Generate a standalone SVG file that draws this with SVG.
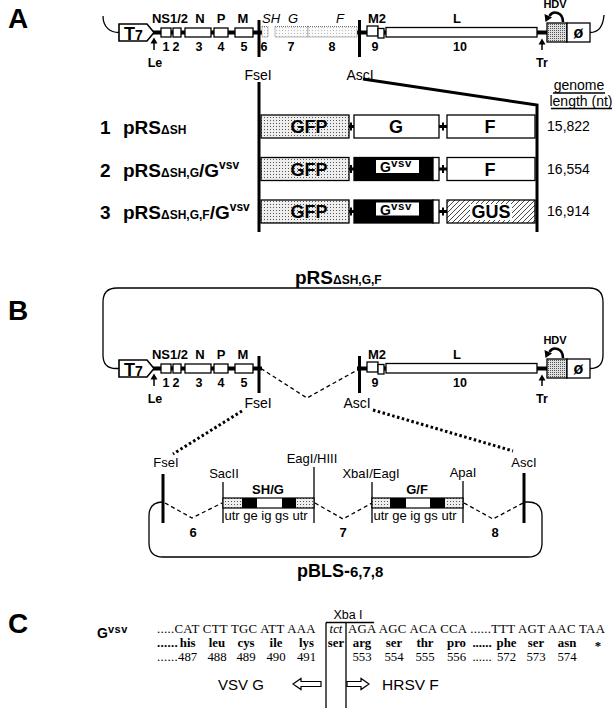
<svg xmlns="http://www.w3.org/2000/svg" width="614" height="712" viewBox="0 0 614 712">
<defs>
<style>
text{font-family:"Liberation Sans",Arial,sans-serif;fill:#000}
.b{font-weight:bold}
.l13{font-size:13px;font-weight:bold;text-anchor:middle}
.n12{font-size:12.5px;font-weight:bold;text-anchor:middle}
.it{font-size:13px;font-style:italic;text-anchor:middle}
.site{font-size:13px;text-anchor:middle}
.site14{font-size:14px;text-anchor:middle}
.box{fill:#fff;stroke:#000;stroke-width:1.3}
.sbox{fill:url(#stip);stroke:#000;stroke-width:1.3}
.pnl{font-size:28px;font-weight:bold}
.big{font-size:19px;font-weight:bold}
.ins{font-size:18px;font-weight:bold;text-anchor:middle}
.len{font-size:14px;text-anchor:middle}
.seq{font-family:"Liberation Serif","Times New Roman",serif;font-size:12.8px;letter-spacing:0.3px}
.sq{font-family:"Liberation Serif","Times New Roman",serif;font-size:12.8px;text-anchor:middle}
.sqb{font-family:"Liberation Serif","Times New Roman",serif;font-size:12.8px;font-weight:bold;text-anchor:middle}
.dash{fill:none;stroke:#000;stroke-width:1.3;stroke-dasharray:4 3}
.dot{fill:none;stroke:#000;stroke-width:3;stroke-dasharray:2.5 2.5}
.ln{stroke:#000;stroke-width:1.3}
.thick{stroke:#000;stroke-width:3}
</style>
<pattern id="stip" width="3" height="3" patternUnits="userSpaceOnUse"><rect width="3" height="3" fill="#eeeeee"/><rect width="1" height="1" fill="#555"/></pattern>
<pattern id="stipD" width="2" height="2" patternUnits="userSpaceOnUse"><rect width="2" height="2" fill="#e0e0e0"/><rect width="1" height="1" fill="#555"/></pattern>
<pattern id="stipL" width="3" height="3" patternUnits="userSpaceOnUse"><rect width="3" height="3" fill="#fafafa"/><rect width="1" height="1" fill="#bbb"/></pattern>
<pattern id="hatch" width="5" height="5" patternUnits="userSpaceOnUse"><rect width="5" height="5" fill="#fff"/><path d="M-1,1 L1,-1 M0,5 L5,0 M4,6 L6,4" stroke="#333" stroke-width="0.9"/></pattern>
<g id="mapL">
<line x1="153" y1="32.5" x2="262" y2="32.5" stroke="#000" stroke-width="4"/>
<polygon points="119,24 147,24 154,32.5 147,41 119,41" fill="#fff" stroke="#000" stroke-width="1.6"/>
<text x="124" y="40" class="b" font-size="18">T<tspan font-size="14">7</tspan></text>
<rect class="box" x="161" y="28" width="10" height="9"/>
<rect class="box" x="173" y="28" width="8" height="9"/>
<rect class="box" x="185" y="28" width="26" height="9"/>
<rect class="box" x="214" y="28" width="14" height="9"/>
<rect class="box" x="235" y="28" width="18" height="9"/>
<text class="l13" x="170" y="22.5">NS1/2</text>
<text class="l13" x="200" y="22.5">N</text>
<text class="l13" x="221" y="22.5">P</text>
<text class="l13" x="243" y="22.5">M</text>
<text class="n12" x="166" y="51">1</text>
<text class="n12" x="176" y="51">2</text>
<text class="n12" x="199" y="51">3</text>
<text class="n12" x="221" y="51">4</text>
<text class="n12" x="244" y="51">5</text>
<line x1="154" y1="42" x2="154" y2="50" stroke="#000" stroke-width="1.5"/>
<polygon points="154,37.5 150.5,43.5 157.5,43.5"/>
<text class="n12" x="155" y="66.5">Le</text>
<rect x="257.5" y="20" width="3" height="37"/>
</g>
<g id="mapR">
<line x1="357" y1="32.5" x2="368" y2="32.5" stroke="#000" stroke-width="4"/>
<line x1="382" y1="32.5" x2="388" y2="32.5" stroke="#000" stroke-width="4"/>
<line x1="536" y1="32.5" x2="548" y2="32.5" stroke="#000" stroke-width="4"/>
<rect x="358" y="20" width="3" height="37"/>
<rect class="box" x="367" y="26" width="11" height="10"/>
<rect class="box" x="378" y="28.5" width="6" height="9.5"/>
<rect class="box" x="386" y="27.5" width="151" height="9.5"/>
<text class="l13" x="377" y="22.5">M2</text>
<text class="l13" x="457" y="22.5">L</text>
<text class="n12" x="375" y="51">9</text>
<text class="n12" x="460" y="51">10</text>
<line x1="542" y1="43" x2="542" y2="50" stroke="#000" stroke-width="1.5"/>
<polygon points="542,38.5 538.5,44.5 545.5,44.5"/>
<text class="n12" x="542" y="66.5">Tr</text>
<rect x="547" y="23" width="20" height="19" fill="url(#stipD)" stroke="#000" stroke-width="1.3"/>
<rect class="box" x="567" y="23" width="23" height="19"/>
<text x="578.5" y="38" class="b" font-size="16" text-anchor="middle">ø</text>
<path d="M563,22 C563,12 553,10 549.5,16" fill="none" stroke="#000" stroke-width="2.6"/>
<polygon points="545.5,22 544.5,14 552,17.5"/>
<text x="555" y="8" class="b" font-size="11" text-anchor="middle">HDV</text>
</g>
</defs>

<g id="panelA">
<text class="pnl" x="8" y="28">A</text>
<g id="genomeA">
<path d="M103,16 C103,27 110,32.5 119,32.5" fill="none" stroke="#000" stroke-width="1.3"/>
<path d="M590,32.5 C598,32.5 603,28 604,15" fill="none" stroke="#000" stroke-width="1.3"/>
<use href="#mapL"/>
<use href="#mapR"/>
<rect x="262" y="26.5" width="6" height="10.5" fill="url(#stipL)" stroke="#777" stroke-width="1" stroke-dasharray="1 1"/>
<rect x="275" y="26.5" width="33" height="10.5" fill="url(#stipL)" stroke="#777" stroke-width="1" stroke-dasharray="1 1"/>
<rect x="308" y="26.5" width="49" height="10.5" fill="url(#stipL)" stroke="#777" stroke-width="1" stroke-dasharray="1 1"/>
<text class="it" x="271" y="22.5">SH</text>
<text class="it" x="293" y="22.5">G</text>
<text class="it" x="340" y="22.5">F</text>
<text class="n12" x="264" y="51">6</text>
<text class="n12" x="291" y="51">7</text>
<text class="n12" x="332" y="51">8</text>
<text class="site14" x="258" y="80">FseI</text>
<text class="site14" x="360" y="80">AscI</text>
</g>
<g id="expansion">
<line x1="259" y1="82" x2="259" y2="232" class="thick"/>
<polyline points="363,79 537,105 537,232" fill="none" class="thick"/>
</g>
<g id="lenHeader">
<text class="len" x="579" y="89.5" font-size="13.5">genome</text>
<line x1="553" y1="93" x2="605" y2="93" class="ln" stroke-width="1"/>
<text class="len" x="581" y="105.5" font-size="13.5">length (nt)</text>
<line x1="551" y1="108.5" x2="612" y2="108.5" class="ln" stroke-width="1"/>
</g>
<g id="row1">
<text class="big" x="100" y="134">1</text>
<text class="big" x="123" y="134">pRS<tspan font-size="12">ΔSH</tspan></text>
<rect class="sbox" x="261" y="115" width="88" height="23"/>
<text class="ins" x="309" y="133">GFP</text>
<rect x="350" y="122.5" width="2" height="8"/><rect x="349" y="125" width="5" height="3"/>
<rect class="box" x="354" y="115" width="85" height="23"/>
<text class="ins" x="396" y="133">G</text>
<rect x="442" y="122.5" width="2" height="8"/><rect x="439" y="125" width="8" height="3"/>
<rect class="box" x="447" y="115" width="88" height="23"/>
<text class="ins" x="490" y="133">F</text>
<text class="len" x="568.5" y="131">15,822</text>
</g>
<g id="row2">
<text class="big" x="100" y="176.5">2</text>
<text class="big" x="123" y="176.5">pRS<tspan font-size="12">ΔSH,G</tspan>/G<tspan font-size="12" dy="-8">vsv</tspan></text>
<rect class="sbox" x="261" y="157.5" width="88" height="23"/>
<text class="ins" x="309" y="175.5">GFP</text>
<rect x="350" y="165" width="2" height="8"/><rect x="349" y="167.5" width="5" height="3"/>
<rect x="354" y="157.5" width="79" height="23" fill="#000" stroke="#000" stroke-width="1.3"/>
<rect class="box" x="433" y="157.5" width="6" height="23"/>
<rect x="376" y="160" width="43" height="13" fill="#fff"/>
<text x="380" y="172" class="b" font-size="14">G<tspan font-size="11.5" dy="-5" letter-spacing="0.6">vsv</tspan></text>
<rect x="442" y="165" width="2" height="8"/><rect x="439" y="167.5" width="8" height="3"/>
<rect class="box" x="447" y="157.5" width="88" height="23"/>
<text class="ins" x="490" y="175.5">F</text>
<text class="len" x="568.5" y="173.5">16,554</text>
</g>
<g id="row3">
<text class="big" x="100" y="219">3</text>
<text class="big" x="123" y="219">pRS<tspan font-size="12">ΔSH,G,F</tspan>/G<tspan font-size="12" dy="-8">vsv</tspan></text>
<rect class="sbox" x="261" y="200" width="88" height="23"/>
<text class="ins" x="309" y="218">GFP</text>
<rect x="350" y="207.5" width="2" height="8"/><rect x="349" y="210" width="5" height="3"/>
<rect x="354" y="200" width="79" height="23" fill="#000" stroke="#000" stroke-width="1.3"/>
<rect class="box" x="433" y="200" width="6" height="23"/>
<rect x="376" y="202.5" width="43" height="13" fill="#fff"/>
<text x="380" y="214.5" class="b" font-size="14">G<tspan font-size="11.5" dy="-5" letter-spacing="0.6">vsv</tspan></text>
<rect x="442" y="207.5" width="2" height="8"/><rect x="439" y="210" width="8" height="3"/>
<rect x="447" y="200" width="88" height="23" fill="url(#hatch)" stroke="#000" stroke-width="1.3"/>
<rect x="470" y="204" width="42" height="16" fill="#fff"/>
<text class="ins" x="491" y="218">GUS</text>
<text class="len" x="568.5" y="216">16,914</text>
</g>
</g>

<g id="panelB">
<text class="pnl" x="8" y="320">B</text>
<g id="genomeB">
<text x="295" y="284" class="big">pRS<tspan font-size="12">ΔSH,G,F</tspan></text>
<path d="M119,368.5 L116,368.5 Q103,368.5 103,355 L103,302 Q103,288 117,288 L589,288 Q603,288 603,302 L603,355 Q603,368.5 590,368.5" fill="none" stroke="#000" stroke-width="1.3"/>
<use href="#mapL" transform="translate(0,336)"/>
<use href="#mapR" transform="translate(0,336)"/>
<text class="site14" x="258" y="408">FseI</text>
<text class="site14" x="357" y="408">AscI</text>
</g>
<g id="connectorsB">
<polyline class="dash" points="261,368.5 307,398 360,368.5"/>
<line class="dot" x1="242" y1="411" x2="173" y2="454"/>
<line class="dot" x1="373" y1="410" x2="513" y2="451"/>
<polyline class="dash" points="165,503 192,518 222,503"/>
<polyline class="dash" points="315,503 343,519 372,503"/>
<polyline class="dash" points="464,503 493,519 523,503"/>
<path d="M163,502 Q149,502 149,516 L149,543 Q149,557 163,557 L528,557 Q542,557 542,543 L542,516 Q542,502 528,502 L524,502" fill="none" stroke="#000" stroke-width="1.3"/>
</g>
<g id="pBLS">
<text class="site" x="166" y="467">FseI</text>
<line class="thick" x1="163" y1="474" x2="163" y2="523"/>
<text class="site" x="524" y="467">AscI</text>
<line class="thick" x1="524" y1="473" x2="524" y2="523"/>
<text class="site" x="224" y="478">SacII</text>
<line class="ln" x1="223" y1="482" x2="223" y2="523"/>
<text class="site" x="312" y="463">EagI/HIII</text>
<line class="ln" x1="314" y1="467" x2="314" y2="523"/>
<text class="site" x="371" y="478">XbaI/EagI</text>
<line class="ln" x1="372" y1="482" x2="372" y2="523"/>
<text class="site" x="463" y="477">ApaI</text>
<line class="ln" x1="463" y1="481" x2="463" y2="523"/>
</g>
<g id="cassetteSHG">
<text class="l13" x="268" y="494">SH/G</text>
<rect x="223" y="498" width="19" height="10" fill="url(#stip)"/>
<rect x="242" y="498" width="15" height="10" fill="#000"/>
<rect x="257" y="498" width="25" height="10" fill="#fff"/>
<rect x="282" y="498" width="14" height="10" fill="#000"/>
<rect x="296" y="498" width="18" height="10" fill="url(#stip)"/>
<rect x="223" y="498" width="91" height="10" fill="none" stroke="#000" stroke-width="1.2"/>
<text x="224.5" y="520" font-size="13">utr ge ig gs utr</text>
</g>
<g id="cassetteGF">
<text class="l13" x="417" y="494">G/F</text>
<rect x="372" y="498" width="18" height="10" fill="url(#stip)"/>
<rect x="390" y="498" width="16" height="10" fill="#000"/>
<rect x="406" y="498" width="24" height="10" fill="#fff"/>
<rect x="430" y="498" width="15" height="10" fill="#000"/>
<rect x="445" y="498" width="18" height="10" fill="url(#stip)"/>
<rect x="372" y="498" width="91" height="10" fill="none" stroke="#000" stroke-width="1.2"/>
<text x="373.5" y="520" font-size="13">utr ge ig gs utr</text>
</g>
<g id="labelsB">
<text class="l13" x="193" y="537">6</text>
<text class="l13" x="343" y="537">7</text>
<text class="l13" x="495" y="537">8</text>
<text x="297" y="577" class="b" font-size="18">pBLS-<tspan font-size="15">6,7,8</tspan></text>
</g>
</g>

<g id="panelC">
<text class="pnl" x="8" y="633">C</text>
<text x="97" y="638" class="b" font-size="14">G<tspan font-size="11" dy="-5" letter-spacing="0.5">vsv</tspan></text>
<g id="xba">
<text x="348" y="619" font-size="12.5" text-anchor="middle">Xba I</text>
<line class="ln" x1="326" y1="622.5" x2="374" y2="622.5"/>
<line class="ln" x1="326" y1="622.5" x2="326" y2="708"/>
<line class="ln" x1="346" y1="622.5" x2="346" y2="708"/>
</g>
<g id="seq1">
<text class="seq" x="157" y="633">.....CAT CTT TGC ATT AAA</text>
<text class="sq" x="336" y="633" font-style="italic">tct</text>
<text class="seq" x="348" y="633">AGA AGC ACA CCA ......TTT AGT AAC TAA</text>
</g>
<g id="seq2">
<text class="seq" x="157" y="647" font-weight="bold">......</text>
<text class="sqb" x="187.6" y="647">his</text>
<text class="sqb" x="217" y="647">leu</text>
<text class="sqb" x="246" y="647">cys</text>
<text class="sqb" x="276" y="647">ile</text>
<text class="sqb" x="306.5" y="647">lys</text>
<text class="sqb" x="336" y="647">ser</text>
<text class="sqb" x="362" y="647">arg</text>
<text class="sqb" x="394" y="647">ser</text>
<text class="sqb" x="425" y="647">thr</text>
<text class="sqb" x="456.5" y="647">pro</text>
<text class="sqb" x="482" y="647">......</text>
<text class="sqb" x="506.5" y="647">phe</text>
<text class="sqb" x="536" y="647">ser</text>
<text class="sqb" x="567" y="647">asn</text>
<text class="sqb" x="598" y="650">*</text>
</g>
<g id="seq3">
<text class="seq" x="157" y="661">......</text>
<text class="sq" x="187.6" y="661">487</text>
<text class="sq" x="217" y="661">488</text>
<text class="sq" x="246" y="661">489</text>
<text class="sq" x="276" y="661">490</text>
<text class="sq" x="306.5" y="661">491</text>
<text class="sq" x="362" y="661">553</text>
<text class="sq" x="394" y="661">554</text>
<text class="sq" x="425" y="661">555</text>
<text class="sq" x="456.5" y="661">556</text>
<text class="sq" x="482" y="661">......</text>
<text class="sq" x="506.5" y="661">572</text>
<text class="sq" x="536" y="661">573</text>
<text class="sq" x="567" y="661">574</text>
</g>
<g id="arrowsC">
<text x="218" y="690" font-size="15">VSV G</text>
<polygon points="293,684 301,678.5 301,681.5 321,681.5 321,686.5 301,686.5 301,689.5" fill="#fff" stroke="#000" stroke-width="1.2"/>
<polygon points="369,684 361,678.5 361,681.5 347,681.5 347,686.5 361,686.5 361,689.5" fill="#fff" stroke="#000" stroke-width="1.2"/>
<text x="382" y="690" font-size="15.5">HRSV F</text>
</g>
</g>
</svg>
